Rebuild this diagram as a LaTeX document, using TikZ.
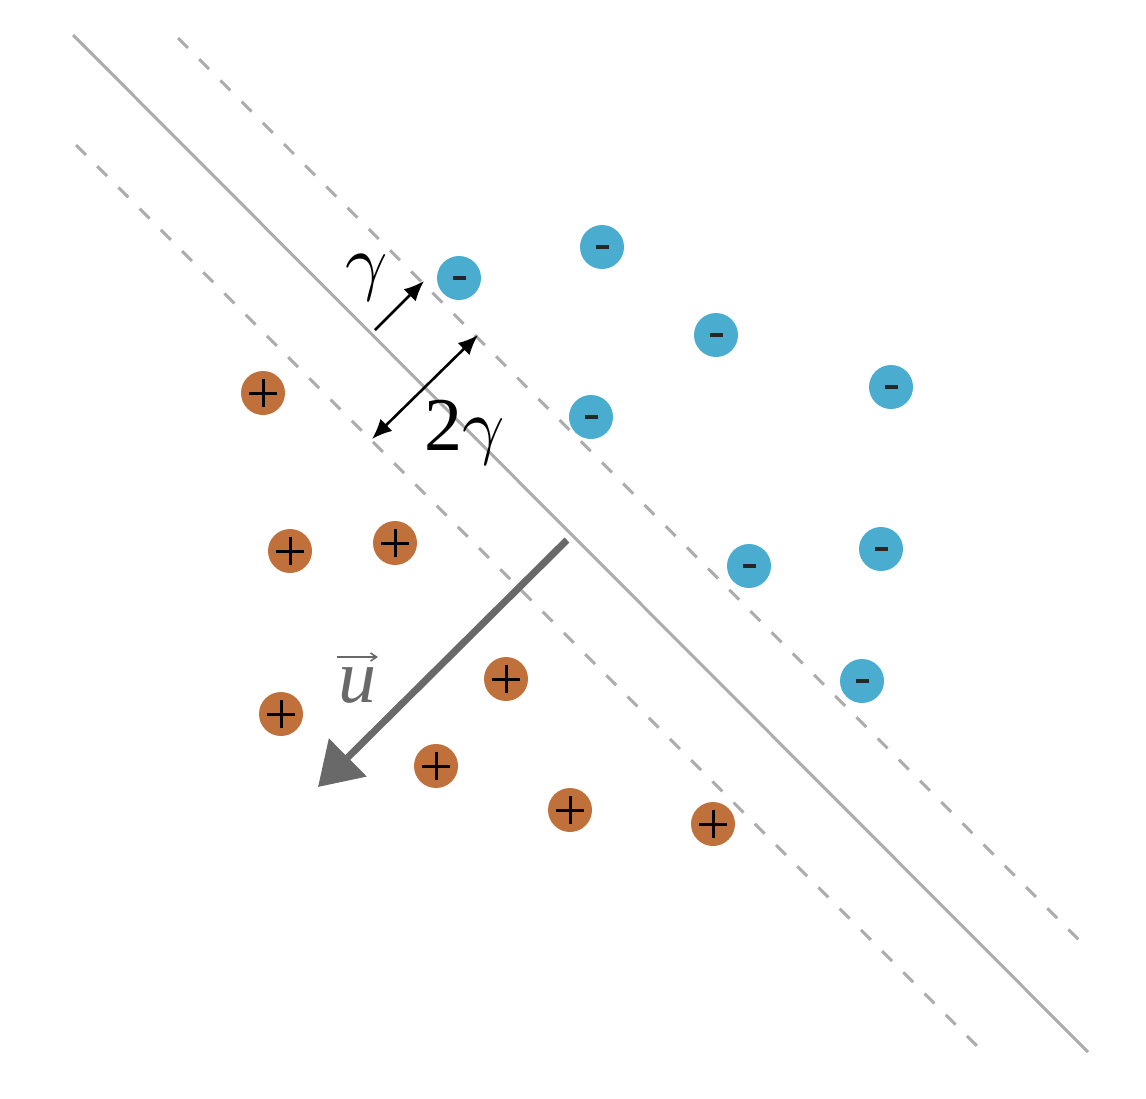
\documentclass[tikz,border=0pt]{standalone}
\usepackage{graphicx}
\usepackage{fontspec}
\setmainfont{Liberation Serif}
\usetikzlibrary{arrows.meta}
\definecolor{negc}{RGB}{74,172,206}
\definecolor{posc}{RGB}{192,112,58}
\definecolor{linec}{RGB}{172,172,172}
\definecolor{arrc}{RGB}{105,105,105}
\newcommand{\biggam}{\scalebox{7.4}{\normalsize$\gamma$}}
\begin{document}
\begin{tikzpicture}[x=1pt,y=-1pt,
  negpt/.style={circle,fill=negc,minimum size=44pt,inner sep=0pt},
  pospt/.style={circle,fill=posc,minimum size=44pt,inner sep=0pt},
  hyper/.style={draw=linec,line width=3pt},
  marginline/.style={draw=linec,line width=3pt,dash pattern=on 14pt off 16pt},
  garrow/.style={line width=2.6pt,-{Latex[length=20pt,width=17pt]}},
  bigfont/.style={font=\fontsize{76}{80}\selectfont,inner sep=0pt}]
\useasboundingbox (0,0) rectangle (1146,1098);
% lines
\coordinate (s1) at (73,35); \coordinate (s2) at (1088,1052);
\coordinate (u1) at (178,38); \coordinate (u2) at (1087,948);
\coordinate (l1) at (76,145); \coordinate (l2) at (983,1052);
\draw[hyper] (s1) -- (s2);
\draw[marginline] (u1) -- (u2);
\draw[marginline] (l1) -- (l2);
% negative points
\foreach \n/\x/\y in {n1/459/278,n2/602/247,n3/716/335,n4/891/387,n5/591/417,n6/749/566,n7/881/549,n8/862/681}{
  \node[negpt] (\n) at (\x,\y) {};
  \draw[line width=4pt,black!85] ([xshift=-6.5pt]\n.center) -- ([xshift=6.5pt]\n.center);
}
% positive points
\foreach \n/\x/\y in {p1/263/393,p2/290/551,p3/395/543,p4/506/679,p5/281/714,p6/436/766,p7/570/810,p8/713/824}{
  \node[pospt] (\n) at (\x,\y) {};
  \draw[line width=3pt,black] ([xshift=-14pt]\n.center) -- ([xshift=14pt]\n.center);
  \draw[line width=3pt,black] ([yshift=-14pt]\n.center) -- ([yshift=14pt]\n.center);
}
% gamma arrows
\coordinate (g1) at (375,330); \coordinate (g2) at (424,281);
\draw[garrow] (g1) -- (g2);
\node[bigfont,anchor=center] (gl) at (367,278) {\biggam};
\coordinate (h1) at (372,439); \coordinate (h2) at (478,335);
\draw[line width=2.6pt,{Latex[length=20pt,width=17pt]}-{Latex[length=20pt,width=17pt]}] (h1) -- (h2);
\node[bigfont,anchor=base west] (gg) at (424,450) {2\biggam};
% u vector
\coordinate (a1) at (567,540); \coordinate (a2) at (318,787);
\draw[arrc,line width=7pt,-{Triangle[length=42pt,width=52pt]}] (a1) -- (a2);
\node[bigfont,text=arrc,anchor=center] (ul) at (357,685) {\textit{u}};
\draw[arrc,line width=1.6pt,-{Straight Barb[length=6pt,width=8pt]}] ([xshift=-20pt,yshift=28pt]ul.center) -- ([xshift=21pt,yshift=28pt]ul.center);
\end{tikzpicture}
\end{document}
